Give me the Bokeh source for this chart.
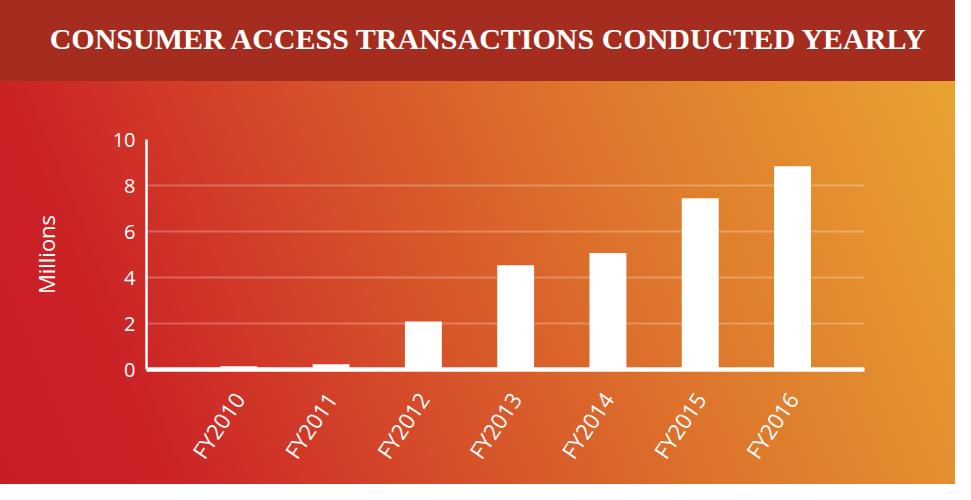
from bokeh.plotting import figure
from bokeh.models import Range1d, FixedTicker, Div, ColumnDataSource
from bokeh.layouts import column
from bokeh.embed import file_html
from bokeh.resources import INLINE
import math

# ---- data ----
years = ["FY2010", "FY2011", "FY2012", "FY2013", "FY2014", "FY2015", "FY2016"]
transactions_millions = [0.14, 0.23, 2.09, 4.53, 5.06, 7.45, 8.84]
y_ticks = [0, 2, 4, 6, 8, 10]
title_text = "CONSUMER ACCESS TRANSACTIONS CONDUCTED YEARLY"
y_label = "Millions"

positions = list(range(len(years)))
src = ColumnDataSource(dict(x=positions, top=transactions_millions))

W = 955
BANNER_H = 81
H = 484 - BANNER_H

banner = Div(
    text=('<div style="width:%dpx;height:%dpx;box-sizing:border-box;padding-left:20px;'
          'text-align:center;line-height:78px;color:white;'
          'font-family:\'Liberation Serif\';font-weight:bold;font-size:30px;'
          'white-space:nowrap;">%s</div>') % (W, BANNER_H, title_text),
    width=W, height=BANNER_H, margin=(0, 0, 0, 0),
    styles={"background-color": "#A52D1F"},
)

p = figure(width=W, height=H, output_backend="svg", toolbar_location=None,
           x_range=Range1d(-1.0, 6.78), y_range=Range1d(0, 10),
           min_border_left=146, min_border_right=91, min_border_top=58,
           min_border_bottom=115, title=None, margin=(0, 0, 0, 0))

p.styles = {
    "background": "linear-gradient(68deg, #C91D25 0%, #CB2226 15%, #D6502A 42%, "
                  "#DD742C 65%, #E9A332 100%)"
}
p.background_fill_alpha = 0
p.border_fill_alpha = 0
p.outline_line_color = None

p.vbar(x="x", top="top", width=0.4, source=src, color="white", line_color=None)

# grid
p.xgrid.grid_line_color = None
p.ygrid.ticker = FixedTicker(ticks=y_ticks)
p.ygrid.grid_line_color = "white"
p.ygrid.grid_line_alpha = 0.25
p.ygrid.grid_line_width = 2

# y axis
p.yaxis.ticker = FixedTicker(ticks=y_ticks)
p.yaxis.axis_line_color = "white"
p.yaxis.axis_line_width = 2.5
p.yaxis.major_tick_line_color = None
p.yaxis.major_tick_out = 0
p.yaxis.major_tick_in = 0
p.yaxis.minor_tick_line_color = None
p.yaxis.major_label_text_color = "white"
p.yaxis.major_label_text_font = "Open Sans"
p.yaxis.major_label_text_font_size = "20px"
p.yaxis.major_label_standoff = 11
p.yaxis.axis_label = y_label
p.yaxis.axis_label_text_color = "white"
p.yaxis.axis_label_text_font = "Open Sans"
p.yaxis.axis_label_text_font_size = "22px"
p.yaxis.axis_label_text_font_style = "normal"
p.yaxis.axis_label_standoff = 49

# x axis
p.xaxis.ticker = FixedTicker(ticks=positions)
p.xaxis.major_label_overrides = {i: y for i, y in zip(positions, years)}
p.xaxis.axis_line_color = "white"
p.xaxis.axis_line_width = 4.5
p.xaxis.major_tick_line_color = None
p.xaxis.major_tick_out = 0
p.xaxis.major_tick_in = 0
p.xaxis.minor_tick_line_color = None
p.xaxis.major_label_text_color = "white"
p.xaxis.major_label_text_font = "Open Sans"
p.xaxis.major_label_text_font_size = "22px"
p.xaxis.major_label_orientation = math.radians(56)
p.xaxis.major_label_standoff = 25

layout = column(banner, p, spacing=0)
open("out.html", "w").write(file_html(layout, INLINE))
